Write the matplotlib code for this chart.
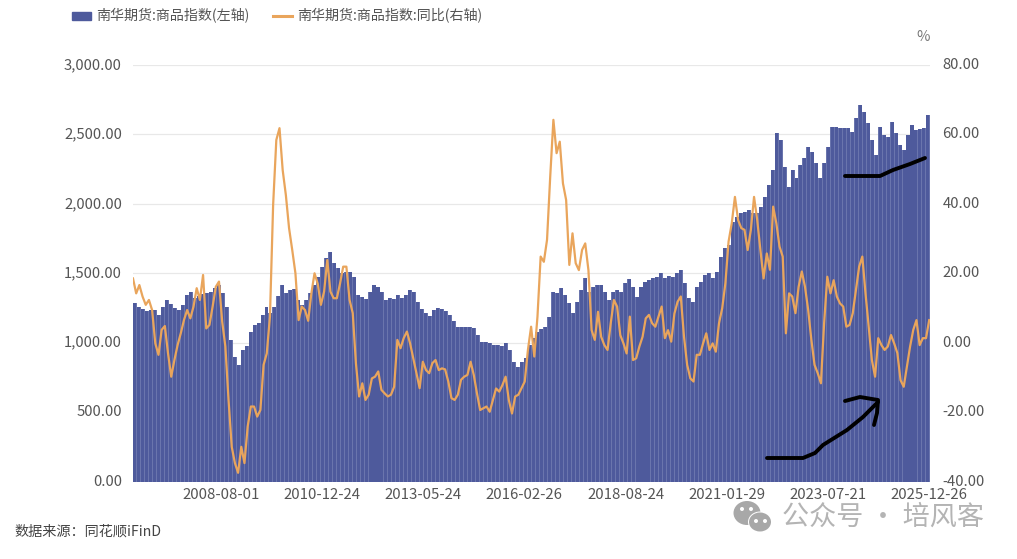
import numpy as np
import matplotlib
matplotlib.use('Agg')
import matplotlib.pyplot as plt
from matplotlib.lines import Line2D
from matplotlib.patches import Ellipse, Patch
from matplotlib.transforms import ScaledTranslation

plt.rcParams['font.family'] = ['Noto Sans CJK SC', 'DejaVu Sans']

# index level, one bar every 5 weeks
index_values = [
    1283, 1259, 1240, 1230, 1235, 1235, 1199, 1259, 1307, 1278, 1247, 1235, 1271, 1343, 1367, 1319, 1336, 1350, 1360, 1367,
    1391, 1415, 1360, 1259, 1019, 899, 839, 947, 976, 1079, 1127, 1144, 1199, 1259, 1211, 1259, 1336, 1415, 1355, 1379,
    1384, 1307, 1271, 1307, 1355, 1415, 1475, 1547, 1607, 1655, 1571, 1535, 1499, 1511, 1511, 1475, 1343, 1331, 1312, 1367,
    1415, 1403, 1367, 1307, 1319, 1312, 1343, 1324, 1343, 1379, 1367, 1295, 1240, 1211, 1192, 1235, 1247, 1240, 1231, 1199,
    1159, 1115, 1115, 1115, 1115, 1103, 1055, 1007, 1002, 995, 983, 983, 976, 995, 947, 863, 827, 863, 887, 983,
    1031, 1079, 1096, 1115, 1187, 1367, 1355, 1391, 1343, 1283, 1211, 1295, 1379, 1463, 1367, 1403, 1415, 1415, 1367, 1307,
    1367, 1379, 1367, 1427, 1456, 1403, 1331, 1403, 1439, 1451, 1463, 1475, 1499, 1463, 1480, 1475, 1499, 1524, 1427, 1319,
    1295, 1403, 1439, 1487, 1499, 1463, 1511, 1619, 1680, 1704, 1872, 1908, 1932, 1944, 1956, 1932, 1932, 1980, 2052, 2136,
    2244, 2508, 2460, 2268, 2124, 2244, 2184, 2280, 2328, 2412, 2376, 2292, 2184, 2292, 2412, 2556, 2556, 2544, 2544, 2544,
    2520, 2616, 2712, 2664, 2580, 2460, 2352, 2556, 2496, 2484, 2592, 2508, 2424, 2388, 2496, 2568, 2532, 2537, 2544, 2640,
]

# year on year change, one point every 4 weeks
yoy_values = [
    18.5, 14.2, 16.6, 13.3, 10.9, 12.3, 9.4, -0.2, -3.5, 3.7, 4.8, -3.1, -9.8, -5.0, -0.7, 2.7, 6.5, 9.4, 7.0, 10.4,
    15.7, 12.3, 19.5, 4.1, 5.1, 10.4, 16.1, 17.6, 6.1, -1.1, -16.5, -30.0, -34.7, -37.5, -30.0, -34.7, -24.2, -18.4, -18.4, -21.3,
    -19.4, -6.4, -3.1, 7.5, 39.7, 58.4, 61.8, 49.7, 42.5, 33.0, 26.7, 20.0, 6.5, 10.4, 9.4, 6.3, 14.2, 20.0, 17.0, 10.9,
    14.7, 23.8, 14.7, 12.8, 12.8, 17.0, 21.9, 21.9, 12.3, 8.5, -6.0, -15.5, -11.7, -16.5, -15.0, -10.3, -9.8, -8.3, -13.6, -14.6,
    -15.5, -15.0, -12.7, 0.8, -1.6, 1.3, 3.2, -0.2, -4.5, -8.8, -13.1, -5.5, -7.9, -8.8, -5.9, -5.0, -7.9, -7.4, -7.7, -11.2,
    -16.0, -16.5, -15.0, -10.7, -9.8, -9.3, -5.5, -9.3, -14.6, -19.4, -18.9, -18.4, -19.9, -16.5, -13.2, -14.1, -12.2, -9.8, -16.5, -20.4,
    -15.5, -15.0, -13.1, -11.2, -2.1, 4.6, -4.0, 7.5, 24.8, 23.3, 29.6, 47.8, 64.2, 54.6, 57.9, 45.9, 41.1, 22.4, 31.5, 22.9,
    20.9, 26.7, 28.6, 20.9, 3.6, 0.8, 8.9, 1.7, -0.7, -2.1, 5.6, 12.3, 10.4, 2.2, -0.2, -3.1, 7.5, -5.0, -4.5, -1.1,
    1.7, 7.0, 8.0, 5.6, 4.6, 7.5, 10.4, 1.3, 3.6, 0.3, 8.4, 11.8, 13.3, 1.8, -6.4, -10.3, -11.2, -3.5, -3.5, -0.2,
    2.7, -2.1, -0.2, -2.6, 5.6, 9.9, 17.1, 29.1, 34.4, 42.0, 35.3, 33.0, 32.5, 26.7, 32.5, 42.0, 35.3, 26.7, 18.5, 25.7,
    21.0, 39.2, 34.4, 27.7, 24.8, 2.7, 14.2, 13.3, 8.5, 16.1, 20.5, 16.1, 9.4, 0.8, -6.4, -8.8, -11.7, 5.6, 19.0, 14.2,
    18.0, 13.3, 11.3, 10.4, 4.6, 5.1, 8.5, 15.2, 21.9, 24.8, 14.2, 4.6, -5.0, -9.8, 1.3, -0.7, -2.1, -1.1, 2.2, -0.2,
    -3.0, -10.8, -12.7, -6.9, -1.1, 3.7, 6.5, -0.7, 1.3, 1.3, 6.5,
]

tick_labels = ['2008-08-01', '2010-12-24', '2013-05-24', '2016-02-26',
               '2018-08-24', '2021-01-29', '2023-07-21', '2025-12-26']
tick_weeks = [110, 237, 364, 491, 618, 745, 872, 999]
left_ticks = [0, 500, 1000, 1500, 2000, 2500, 3000]
right_ticks = [-40, -20, 0, 20, 40, 60, 80]

W, H = 1017, 559
BAR_COLOR = '#4e5a9c'
GAP_COLOR = '#6a75ad'
LINE_COLOR = '#e9a55c'
TEXT_COLOR = '#555555'

# hand drawn marks on top of the screenshot, in pixels
stroke_top = [(845, 176), (880, 176), (893, 170), (910, 164), (925, 158)]
stroke_arrow = [(767, 458), (803, 458), (815, 453), (823, 445), (847, 430), (863, 417), (878, 402)]
stroke_head = [(845, 401), (860, 397), (878, 400), (877, 413), (874, 425)]


def px(x, y):
    return x / W, 1 - y / H


fig = plt.figure(figsize=(W / 100, H / 100), dpi=100)
ax = fig.add_axes([133 / W, 1 - 481.5 / H, 797 / W, 416.5 / H])

# lighter bars underneath give the thin pale stripes between the dark ones
bar_weeks = np.arange(len(index_values)) * 5
ax.bar(bar_weeks, index_values, width=5, align='edge', color=GAP_COLOR, linewidth=0)
ax.bar(bar_weeks + 0.5, index_values, width=3.8, align='edge', color=BAR_COLOR, linewidth=0)
ax.set_xlim(0, 1000)
ax.set_ylim(0, 3000)
ax.set_yticks(left_ticks)
ax.set_yticklabels([f'{v:,.2f}' for v in left_ticks])
ax.set_xticks(tick_weeks)
ax.set_xticklabels(tick_labels)
ax.grid(axis='y', color='#e8e8e8', linewidth=0.9)
ax.set_axisbelow(True)
ax.tick_params(axis='y', length=0, pad=8, labelsize=10.7, labelcolor=TEXT_COLOR)
ax.tick_params(axis='x', length=0, pad=5, labelsize=10.8, labelcolor=TEXT_COLOR)

ax2 = ax.twinx()
line_weeks = np.linspace(0, 999, len(yoy_values))
ax2.plot(line_weeks, yoy_values, color=LINE_COLOR, linewidth=1.6)
ax2.set_ylim(-40, 80)
ax2.set_yticks(right_ticks)
ax2.set_yticklabels([f'{v:.2f}' for v in right_ticks])
ax2.tick_params(axis='y', length=0, pad=9, labelsize=10.7, labelcolor=TEXT_COLOR)

for a in (ax, ax2):
    for s in a.spines.values():
        s.set_visible(False)
    # labels sit a little above the gridlines in the reference
    for lab in a.get_yticklabels():
        lab.set_transform(lab.get_transform() + ScaledTranslation(0, 1.5 / 100, fig.dpi_scale_trans))

handles = [Patch(color=BAR_COLOR), Line2D([], [], color=LINE_COLOR, linewidth=2.2)]
fig.legend(handles, ['南华期货:商品指数(左轴)', '南华期货:商品指数:同比(右轴)'],
           loc='upper left', bbox_to_anchor=(59.5 / W, 1 + 4 / H), ncol=2, frameon=False,
           fontsize=10.1, labelcolor=TEXT_COLOR, handlelength=1.37, handleheight=0.5,
           handletextpad=0.36, columnspacing=1.65)

x, y = px(923, 37)
fig.text(x, y, '%', fontsize=10.5, color='#777777', ha='center', va='center')
x, y = px(14, 532)
fig.text(x, y, '数据来源：同花顺iFinD', fontsize=10.2, color='#444444', ha='left', va='center')

# watermark
x, y = px(782, 517)
fig.text(x, y, '公众号 · 培风客', fontsize=19.5, color='#b4b4b4', ha='left', va='center')
for cx, cy, w, h, c in [(747, 513, 27, 24, '#a8a8a8'), (760, 522, 24, 21, 'white'), (760, 522, 22, 19, '#a8a8a8')]:
    fig.add_artist(Ellipse(px(cx, cy), w / W, h / H, color=c, transform=fig.transFigure, linewidth=0))
for cx, cy in [(742, 509), (751, 509), (756, 521), (765, 521)]:
    fig.add_artist(Ellipse(px(cx, cy), 4 / W, 4 / H, color='white', transform=fig.transFigure, linewidth=0))

for stroke in (stroke_top, stroke_arrow, stroke_head):
    xs, ys = zip(*[px(a, b) for a, b in stroke])
    fig.add_artist(Line2D(xs, ys, color='black', linewidth=2.8, transform=fig.transFigure,
                          solid_capstyle='round', solid_joinstyle='round'))

fig.savefig('out.png', dpi=100)
